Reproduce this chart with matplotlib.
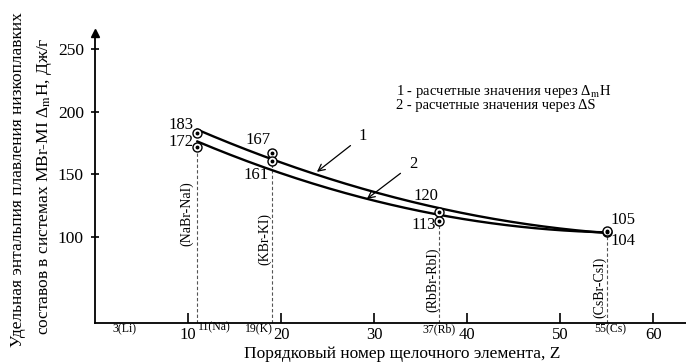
import numpy as np
import matplotlib
matplotlib.use("Agg")
import matplotlib.pyplot as plt

plt.rcParams['font.family'] = ['Liberation Serif', 'DejaVu Serif']
plt.rcParams['mathtext.fontset'] = 'stix'

# Data
z_elements = [11, 19, 37, 55]
systems = ["(NaBr-NaI)", "(KBr-KI)", "(RbBr-RbI)", "(CsBr-CsI)"]
curve1 = [183, 167, 120, 104]   # via ΔmH
curve2 = [172, 161, 113, 105]   # via ΔS
x_ticks = [10, 20, 30, 40, 50, 60]
y_ticks = [100, 150, 200, 250]
elem_labels = ["3(Li)", "11(Na)", "19(K)", "37(Rb)", "55(Cs)"]
elem_pos = [3, 11, 19, 37, 55]

W, H = 686, 363
fig = plt.figure(figsize=(W / 100, H / 100), dpi=100)
fig.patch.set_facecolor('white')

ax_l, ax_b, ax_r, ax_t = 95, 323, 686, 33
ax = fig.add_axes([ax_l / W, (H - ax_b) / H, (ax_r - ax_l) / W, (ax_b - ax_t) / H])
ax.set_xlim(0, 63.5)
ax.set_ylim(31.2, 263)
for s in ['top', 'right']:
    ax.spines[s].set_visible(False)
for s in ['left', 'bottom']:
    ax.spines[s].set_linewidth(1.3)

ax.set_xticks(x_ticks)
ax.set_xticklabels([str(v) for v in x_ticks], fontsize=12)
ax.set_yticks(y_ticks)
ax.set_yticklabels([str(v) for v in y_ticks], fontsize=12.5)
ax.tick_params(axis='x', direction='in', length=7, width=1.2, pad=3)
ax.tick_params(axis='y', direction='inout', length=6, width=1.2, pad=5)

# y axis arrow
ax.plot([0], [1], marker='^', color='black', markersize=6,
        transform=ax.transAxes, clip_on=False)

# smooth curves
xs = np.linspace(z_elements[0], z_elements[-1], 200)
for c in (curve1, curve2):
    p = np.polyfit(z_elements, c, 2)
    ax.plot(xs, np.polyval(p, xs), color='black', lw=1.7, zorder=3)

# dashed verticals
for z, a, b in zip(z_elements, curve1, curve2):
    ax.plot([z, z], [31.2, min(a, b)], color='#555555', lw=0.8,
            ls=(0, (3, 2)), zorder=1)

# markers
for c in (curve1, curve2):
    ax.plot(z_elements, c, 'o', ms=6.5, mfc='white', mec='black', mew=1.0, zorder=4)
    ax.plot(z_elements, c, 'o', ms=1.8, color='black', zorder=5)

# value labels (pixel offsets)
offs1 = [(-4, 8, 'right'), (-14, 13, 'center'), (-13, 16, 'center'), (4, -9, 'left')]
offs2 = [(-4, 5, 'right'), (-16, -14, 'center'), (-16, -4, 'center'), (4, 11, 'left')]
for c, offs in ((curve1, offs1), (curve2, offs2)):
    for z, v, (dx, dy, ha) in zip(z_elements, c, offs):
        ax.annotate(str(v), (z, v), xytext=(dx, dy), textcoords='offset pixels',
                    ha=ha, va='center', fontsize=12, zorder=6)

# system labels (rotated)
sys_pos = [(187, 214), (265, 239), (433, 280), (600, 287)]
for name, (px, py) in zip(systems, sys_pos):
    fig.text(px / W, 1 - py / H, name, rotation=90, ha='center', va='center',
             fontsize=10)

# element labels under axis
elem_px = [(124, 329, 'center'), (198, 327, 'left'), (273, 329, 'right'),
           (439, 329, 'center'), (610, 329, 'center')]
for lab, (px, py, ha) in zip(elem_labels, elem_px):
    fig.text(px / W, 1 - py / H, lab, ha=ha, va='center', fontsize=8.5)

# curve numbers with arrows
def pix2data(px, py):
    return ((px - ax_l) / 9.31, 31.2 + (ax_b - py) / 1.25)

ax.annotate("1", xy=pix2data(317, 172), xytext=pix2data(363, 136),
            ha='center', va='center', fontsize=12,
            arrowprops=dict(arrowstyle='->', color='black', lw=0.9,
                            shrinkA=5, shrinkB=0))
ax.annotate("2", xy=pix2data(367, 199), xytext=pix2data(413, 164),
            ha='center', va='center', fontsize=12,
            arrowprops=dict(arrowstyle='->', color='black', lw=0.9,
                            shrinkA=5, shrinkB=0))

# legend text
fig.text(396 / W, 1 - 91.5 / H, "1 - расчетные значения через Δ$_{\\mathrm{m}}$H",
         ha='left', va='center', fontsize=10.5)
fig.text(396 / W, 1 - 106 / H, "2 - расчетные значения через ΔS",
         ha='left', va='center', fontsize=10.5)

# axis titles
fig.text(18 / W, 1 - 180 / H, "Удельная энтальпия плавления низкоплавких",
         rotation=90, ha='center', va='center', fontsize=12.5)
fig.text(45 / W, 1 - 186 / H, "составов в системах MBr-MI Δ$_{\\mathrm{m}}$H, Дж/г",
         rotation=90, ha='center', va='center', fontsize=12.5)
fig.text(402 / W, 1 - 354 / H, "Порядковый номер щелочного элемента, Z",
         ha='center', va='center', fontsize=12.5)

fig.savefig("out.png", dpi=100, facecolor='white')
